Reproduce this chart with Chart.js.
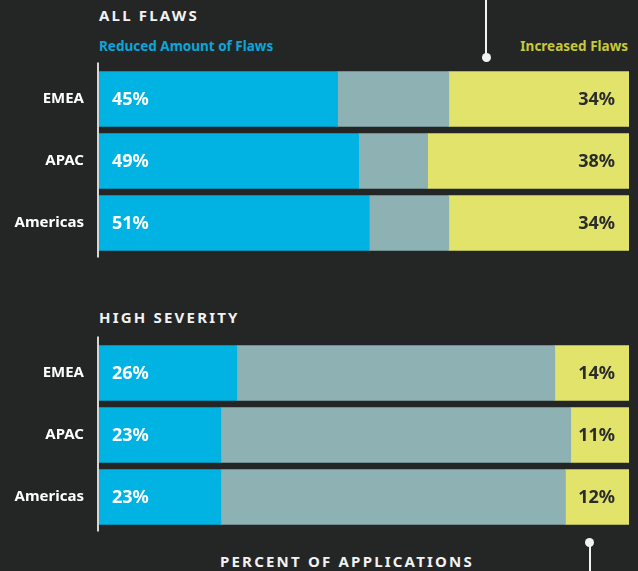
<!DOCTYPE html>
<html>
<head>
<meta charset="utf-8">
<script src="https://cdn.jsdelivr.net/npm/chart.js@4.4.1/dist/chart.umd.min.js"></script>
<style>
  html, body { margin: 0; padding: 0; background: #242626; }
  body { width: 638px; height: 571px; position: relative; overflow: hidden; font-family: "Noto Sans", sans-serif; }
  .txt { position: absolute; white-space: nowrap; font-weight: 700; }
  .title { color: #f2f2f2; font-size: 15px; letter-spacing: 2.2px; line-height: 20px; }
  .legend { font-size: 13.5px; line-height: 18px; }
  .wrap { position: absolute; left: 0; width: 638px; }
  .vline { position: absolute; width: 2px; background: #f2f2f2; }
  .dot { position: absolute; width: 9px; height: 9px; border-radius: 50%; background: #f2f2f2; }
</style>
</head>
<body>
<div class="txt title" style="left:99px; top:5px;">ALL FLAWS</div>
<div class="txt legend" style="left:99px; top:37px; color:#09a7d9;">Reduced Amount of Flaws</div>
<div class="txt legend" style="right:10px; top:37px; color:#c8c93b;">Increased Flaws</div>
<div class="txt title" style="left:99px; top:307px;">HIGH SEVERITY</div>
<div class="txt title" style="left:220px; top:551px;">PERCENT OF APPLICATIONS</div>

<div class="vline" style="left:485px; top:0; height:57px;"></div>
<div class="dot" style="left:481.5px; top:52.5px;"></div>
<div class="vline" style="left:588.5px; top:541px; height:30px;"></div>
<div class="dot" style="left:585px; top:537.5px;"></div>

<div class="wrap" style="top:58px; height:210px;"><canvas id="chartAll"></canvas></div>
<div class="wrap" style="top:332px; height:210px;"><canvas id="chartHigh"></canvas></div>

<script>
var categories = ['EMEA', 'APAC', 'Americas'];

// all flaws
var allReduced = [45, 49, 51];
var allSame = [21, 13, 15];
var allIncreased = [34, 38, 34];

// high severity
var highReduced = [26, 23, 23];
var highSame = [60, 66, 65];
var highIncreased = [14, 11, 12];

var blue = '#00b3e3';
var grey = '#8eb2b3';
var yellow = '#e2e36a';

// percentage text inside the blue and yellow segments
var barText = {
  id: 'barText',
  afterDatasetsDraw: function(chart) {
    var ctx = chart.ctx;
    ctx.save();
    ctx.font = '700 18px "Noto Sans"';
    ctx.textBaseline = 'middle';
    var first = chart.getDatasetMeta(0);
    var last = chart.getDatasetMeta(2);
    first.data.forEach(function(bar, i) {
      ctx.fillStyle = '#ffffff';
      ctx.textAlign = 'left';
      ctx.fillText(chart.data.datasets[0].data[i] + '%', bar.base + 13, bar.y + 1);
    });
    last.data.forEach(function(bar, i) {
      ctx.fillStyle = '#2a2b2b';
      ctx.textAlign = 'right';
      ctx.fillText(chart.data.datasets[2].data[i] + '%', bar.x - 14, bar.y + 1);
    });
    ctx.restore();
  }
};

// light axis line left of the bars
var axisLine = {
  id: 'axisLine',
  afterDraw: function(chart) {
    var a = chart.chartArea;
    var ctx = chart.ctx;
    ctx.save();
    ctx.fillStyle = '#d6d6d6';
    ctx.fillRect(a.left - 2, a.top - 5.5, 2, a.bottom - a.top + 9);
    ctx.restore();
  }
};

function makeChart(id, reduced, same, increased) {
  var ctx = document.getElementById(id).getContext('2d');
  return new Chart(ctx, {
    type: 'bar',
    data: {
      labels: categories,
      datasets: [
        { label: 'Reduced Amount of Flaws', data: reduced, backgroundColor: blue, barThickness: 55 },
        { label: 'No Change', data: same, backgroundColor: grey, barThickness: 55 },
        { label: 'Increased Flaws', data: increased, backgroundColor: yellow, barThickness: 55 }
      ]
    },
    options: {
      indexAxis: 'y',
      responsive: true,
      maintainAspectRatio: false,
      animation: false,
      borderSkipped: false,
      layout: { padding: { top: 10, bottom: 14, left: 0, right: 9 } },
      plugins: {
        legend: { display: false },
        tooltip: { enabled: false }
      },
      scales: {
        x: { stacked: true, min: 0, max: 100, display: false },
        y: {
          stacked: true,
          afterFit: function(scale) {
            scale.width = 99;
            scale.paddingTop = 0;
            scale.paddingBottom = 0;
          },
          grid: { display: false, drawTicks: false },
          border: { display: false },
          ticks: {
            color: '#ffffff',
            padding: 15,
            font: { family: 'Noto Sans', size: 15, weight: '700' }
          }
        }
      }
    },
    plugins: [barText, axisLine]
  });
}

var chartAll = makeChart('chartAll', allReduced, allSame, allIncreased);
var chartHigh = makeChart('chartHigh', highReduced, highSame, highIncreased);
</script>
</body>
</html>
